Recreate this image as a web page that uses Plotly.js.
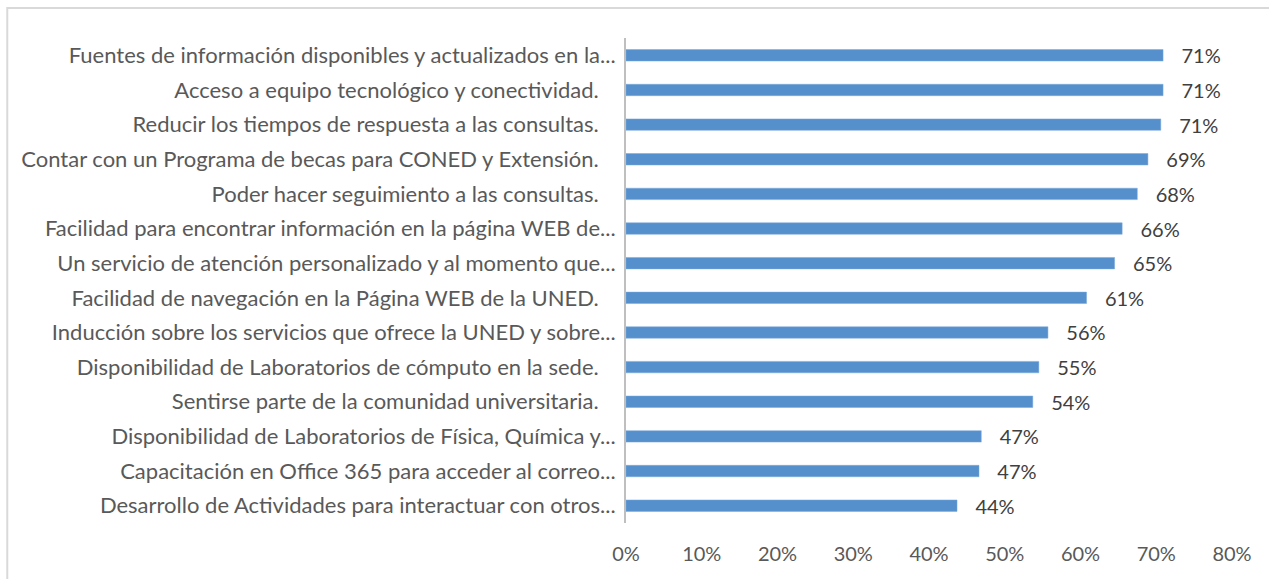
<!DOCTYPE html>
<html>
<head>
<meta charset="utf-8">
<script src="https://cdn.plot.ly/plotly-3.0.1.min.js"></script>
<style>html,body{margin:0;padding:0;background:#fff;}#chart{width:1269px;height:579px;}</style>
</head>
<body>
<div id="chart"></div>
<script>
const categories = [
  "Fuentes de información disponibles y actualizados en la...",
  "Acceso a equipo tecnológico y conectividad.",
  "Reducir los tiempos de respuesta a las consultas.",
  "Contar con un Programa de becas para CONED y Extensión.",
  "Poder hacer seguimiento a las consultas.",
  "Facilidad para encontrar información en la página WEB de...",
  "Un servicio de atención personalizado y al momento que...",
  "Facilidad de navegación en la Página WEB de la UNED.",
  "Inducción sobre los servicios que ofrece la UNED y sobre...",
  "Disponibilidad de Laboratorios de cómputo en la sede.",
  "Sentirse parte de la comunidad universitaria.",
  "Disponibilidad de Laboratorios de Física, Química y...",
  "Capacitación en Office 365 para acceder al correo...",
  "Desarrollo de Actividades para interactuar con otros..."
];
const values = [0.709, 0.709, 0.706, 0.689, 0.675, 0.655, 0.645, 0.608, 0.557, 0.545, 0.537, 0.469, 0.466, 0.437];
const xTickVals = [0, 0.1, 0.2, 0.3, 0.4, 0.5, 0.6, 0.7, 0.8];
const xTickText = ["0%", "10%", "20%", "30%", "40%", "50%", "60%", "70%", "80%"];

// labels that are not truncated carry a trailing space in the original
const yLabels = categories.map(c => c.endsWith("...") ? c : c + "\u00a0\u00a0\u00a0");

const trace = {
  type: "bar",
  orientation: "h",
  y: yLabels,
  x: values,
  marker: {color: "#5590CD", line: {color: "#7AA9DA", width: 0.5}},
  width: 0.33,
  text: values.map(v => "\u00a0\u00a0\u00a0" + Math.round(v * 100) + "%"),
  textposition: "outside",
  constraintext: "none",
  textfont: {family: "Lato, 'Open Sans', sans-serif", size: 20, color: "#404040"},
  cliponaxis: false,
  hoverinfo: "skip"
};

const layout = {
  width: 1269,
  height: 579,
  margin: {l: 626, r: 37, t: 38, b: 56, pad: 0},
  paper_bgcolor: "#ffffff",
  plot_bgcolor: "#ffffff",
  showlegend: false,
  font: {family: "Lato, 'Open Sans', sans-serif", color: "#595959"},
  xaxis: {
    range: [0, 0.8],
    tickvals: xTickVals,
    ticktext: xTickText,
    showgrid: false,
    zeroline: false,
    showline: false,
    ticks: "",
    ticklabelstandoff: 17,
    tickfont: {size: 20, color: "#595959"},
    fixedrange: true
  },
  yaxis: {
    autorange: "reversed",
    type: "category",
    showgrid: false,
    zeroline: false,
    showline: true,
    linecolor: "#BFBFBF",
    linewidth: 2,
    ticks: "",
    ticklabelstandoff: 4,
    tickfont: {size: 22, color: "#595959"},
    fixedrange: true
  },
  shapes: [{
    type: "rect", xref: "paper", yref: "paper",
    x0: -1.021, x1: 1.2, y0: -0.5, y1: 1.062,
    line: {color: "#D9D9D9", width: 2}, fillcolor: "rgba(0,0,0,0)"
  }]
};

Plotly.newPlot("chart", [trace], layout, {displayModeBar: false, staticPlot: true});
</script>
</body>
</html>
